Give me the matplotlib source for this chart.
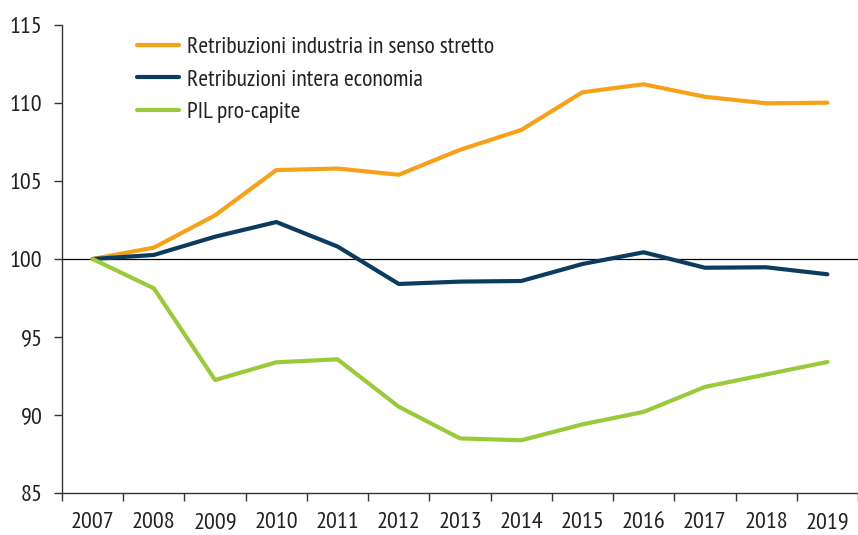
import matplotlib
matplotlib.use('Agg')
import matplotlib.pyplot as plt
import numpy as np

years = ["2007", "2008", "2009", "2010", "2011", "2012", "2013",
         "2014", "2015", "2016", "2017", "2018", "2019"]
industria = [100, 100.73, 102.8, 105.7, 105.8, 105.4, 107.0,
             108.27, 110.69, 111.2, 110.4, 109.98, 110.02]
economia = [100, 100.26, 101.43, 102.37, 100.8, 98.4, 98.55,
            98.59, 99.68, 100.43, 99.44, 99.47, 99.02]
pil = [100, 98.12, 92.24, 93.38, 93.57, 90.53, 88.5,
       88.38, 89.4, 90.2, 91.8, 92.6, 93.4]

# condensed look, first installed one wins
plt.rcParams['font.family'] = ['PT Sans Narrow', 'Roboto Condensed', 'Archivo Narrow',
                               'Open Sans Condensed', 'Liberation Sans Narrow', 'DejaVu Sans']

fig = plt.figure(figsize=(8.58, 5.35), dpi=100)
ax = fig.add_axes([62 / 858, 42 / 535, 796 / 858, 468 / 535])

x = np.arange(len(years))
ax.axhline(100, color="black", lw=0.9, zorder=1)
ax.plot(x, industria, color="#F7A11A", lw=3.0, label="Retribuzioni industria in senso stretto",
        solid_joinstyle="round", solid_capstyle="round", zorder=3)
ax.plot(x, economia, color="#0B3C5D", lw=3.0, label="Retribuzioni intera economia",
        solid_joinstyle="round", solid_capstyle="round", zorder=3)
ax.plot(x, pil, color="#9ACA3C", lw=3.0, label="PIL pro-capite",
        solid_joinstyle="round", solid_capstyle="round", zorder=3)

ax.set_ylim(85, 115)
ax.set_yticks([85, 90, 95, 100, 105, 110, 115])
ax.set_xlim(-0.5, -0.5 + 796 / 61.8)
ax.set_xticks(x)
ax.set_xticklabels(years)
ax.set_xticks(np.arange(-0.5, 13, 1), minor=True)
ax.tick_params(axis="x", which="major", length=0, pad=14, labelsize=17.5, labelcolor="#222222")
ax.tick_params(axis="x", which="minor", length=6, width=1, color="#333333", direction="out")
ax.tick_params(axis="y", length=6, width=1, color="#333333", pad=8, labelsize=17.5, labelcolor="#222222")

for s in ["top", "right"]:
    ax.spines[s].set_visible(False)
for s in ["left", "bottom"]:
    ax.spines[s].set_color("#333333")
    ax.spines[s].set_linewidth(1)

leg = ax.legend(loc="upper left", bbox_to_anchor=(0.067, 1.021), frameon=False,
                fontsize=17, handlelength=1.8, handletextpad=0.35, labelspacing=0.47)
for t in leg.get_texts():
    t.set_color("#222222")

fig.savefig("out.png", dpi=100)
